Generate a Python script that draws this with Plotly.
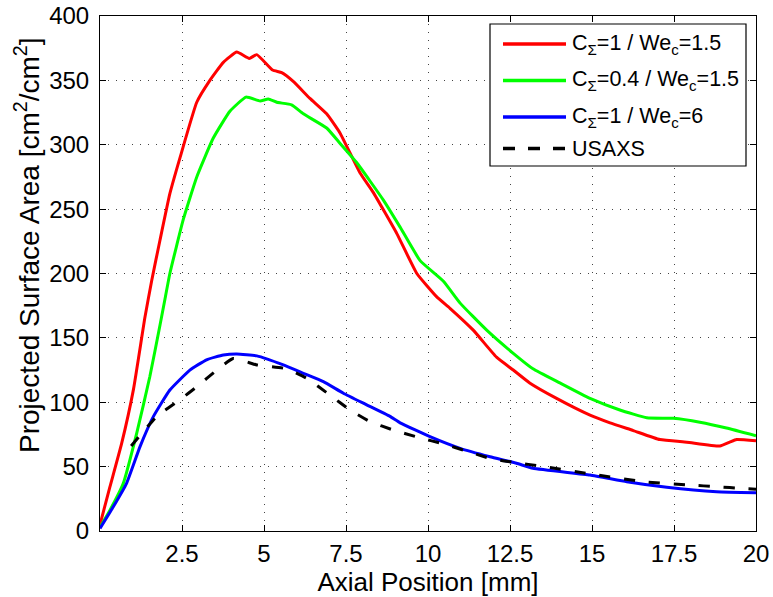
import plotly.graph_objects as go

# ---- data ----
red_x = [0, 0.3, 0.66, 1.02, 1.37, 1.58, 1.83, 2.13, 2.44, 2.95, 3.35, 3.76, 4.17, 4.55, 4.78,
         5.26, 5.54, 5.9, 6.4, 6.91, 7.32, 7.93, 8.33, 9.05, 9.66, 10.26, 10.67, 11.38, 12.09,
         12.6, 13.1, 13.92, 14.94, 15.55, 16.26, 17.07, 17.89, 18.9, 19.2, 19.41, 20]
red_y = [5, 34, 68, 110, 166, 195, 226, 262, 290, 333, 350, 364, 372, 367, 370,
         358, 356, 349, 336, 324, 309, 278, 263, 231, 200, 182, 173, 156, 135,
         125, 115, 103, 90, 84, 78, 71, 69, 66, 69, 71, 70]

green_x = [0, 0.3, 0.71, 1.12, 1.52, 1.83, 1.98, 2.13, 2.54, 2.95, 3.45, 3.96, 4.45, 4.88, 5.13,
           5.39, 5.84, 6.2, 6.91, 7.32, 7.83, 8.64, 9.15, 9.76, 10.47, 10.98, 11.79, 12.6, 13.2,
           14.02, 14.94, 15.85, 16.67, 17.48, 18.29, 19.1, 20]
green_y = [3, 16, 37, 76, 120, 160, 180, 200, 242, 275, 305, 326, 337, 334, 335.5,
           333, 331, 324, 313, 301, 286, 257, 236, 210, 194, 177, 156, 138, 126,
           115, 103, 94, 88, 87.5, 84.5, 80, 74]

blue_x = [0, 0.41, 0.81, 1.22, 1.63, 2.13, 2.74, 3.25, 3.76, 4.17, 4.78, 5.59, 6.2, 6.81, 7.42,
          8.13, 8.84, 9.15, 10.06, 10.98, 11.89, 12.7, 13.2, 14.94, 16.06, 17.28, 18.8, 20]
blue_y = [2, 19, 37, 65.5, 89, 109.5, 125, 133, 136.7, 137.5, 136, 129, 122.5, 116, 107,
          98, 89, 84, 73.3, 64.2, 57.7, 52.6, 48.7, 43.5, 38.3, 34, 30.5, 29.7]

usaxs_x = [0.95, 1.73, 2.44, 2.95, 3.56, 4.06, 4.78, 5.69, 6.3, 7.01, 7.62, 8.23, 8.94, 9.7,
           10.47, 11.18, 11.94, 12.7, 13.41, 14.94, 16.57, 18.0, 18.8, 19.6, 20]
usaxs_y = [66, 89, 102, 112, 125, 134, 129, 126, 118.6, 105.6, 94, 85, 78.4, 72.8,
           67.6, 62, 56, 53, 50.5, 44.3, 38.3, 35.7, 34.4, 33, 32.5]

names = ["C<sub>Σ</sub>=1 / We<sub>c</sub>=1.5",
         "C<sub>Σ</sub>=0.4 / We<sub>c</sub>=1.5",
         "C<sub>Σ</sub>=1 / We<sub>c</sub>=6",
         "USAXS"]

x_ticks = [2.5, 5, 7.5, 10, 12.5, 15, 17.5, 20]
x_tick_text = ["2.5", "5", "7.5", "10", "12.5", "15", "17.5", "20"]
y_ticks = [0, 50, 100, 150, 200, 250, 300, 350, 400]

x_title = "Axial Position [mm]"
y_title = "Projected Surface Area [cm<sup>2</sup>/cm<sup>2</sup>]"

# ---- styles ----
FONT = "Liberation Sans, Arial, Helvetica, sans-serif"
colors = ["#ff0000", "#00ff00", "#0000ff", "#000000"]
dashes = ["solid", "solid", "solid", "11px,14px"]

W, H = 773, 597
ML, MR, MT, MB = 100, 17, 16, 66
PW, PH = W - ML - MR, H - MT - MB


def px2paper(px, py):
    return (px - ML) / PW, (H - MB - py) / PH


fig = go.Figure()
series = [(red_x, red_y), (green_x, green_y), (blue_x, blue_y), (usaxs_x, usaxs_y)]
for (sx, sy), nm, c, d in zip(series, names, colors, dashes):
    fig.add_trace(go.Scatter(x=sx, y=sy, mode="lines", name=nm, showlegend=False,
                             line=dict(color=c, width=3, dash=d, shape="spline", smoothing=0.4)))

axis_common = dict(
    showline=True, linecolor="black", linewidth=1, mirror="allticks",
    ticks="inside", ticklen=6, tickcolor="black",
    showgrid=True, gridcolor="#444444", gridwidth=1, griddash="1px,7px",
    zeroline=False, automargin=False,
    tickfont=dict(family=FONT, size=24, color="black"),
)

fig.update_xaxes(range=[0, 20], tickvals=x_ticks, ticktext=x_tick_text,
                 ticklabelstandoff=1,
                 title=dict(text=x_title, font=dict(family=FONT, size=26, color="black"),
                            standoff=0),
                 **axis_common)
fig.update_yaxes(range=[0, 400], tickvals=y_ticks, ticklabelstandoff=5, **axis_common)

shapes = []
annotations = []

# y-axis title (placed as in the reference, slightly above the axis centre)
yx, yy = px2paper(27, 245)
annotations.append(dict(xref="paper", yref="paper", x=yx, y=yy, text=y_title, showarrow=False,
                        textangle=-90, xanchor="center", yanchor="middle",
                        font=dict(family=FONT, size=28, color="black")))

# ---- legend box drawn to match the reference layout ----
bx0, by0 = px2paper(490, 166)
bx1, by1 = px2paper(746, 24)
shapes.append(dict(type="rect", xref="paper", yref="paper", x0=bx0, y0=by0, x1=bx1, y1=by1,
                   fillcolor="white", line=dict(color="black", width=1.2), layer="above"))
row_y = [44, 80.5, 117, 148.5]
for ry, nm, c, d in zip(row_y, names, colors, dashes):
    lx0, ly = px2paper(503, ry)
    lx1, _ = px2paper(566, ry)
    shapes.append(dict(type="line", xref="paper", yref="paper", x0=lx0, x1=lx1, y0=ly, y1=ly,
                       line=dict(color=c, width=3.5, dash="12px,13px" if d != "solid" else "solid"),
                       layer="above"))
    tx, _ = px2paper(570, ry)
    annotations.append(dict(xref="paper", yref="paper", x=tx, y=ly, text=nm, showarrow=False,
                            xanchor="left", yanchor="middle",
                            font=dict(family=FONT, size=21.5, color="black")))

fig.update_layout(
    width=W, height=H,
    margin=dict(l=ML, r=MR, t=MT, b=MB, pad=0),
    paper_bgcolor="white", plot_bgcolor="white",
    font=dict(family=FONT, color="black"),
    showlegend=False,
    shapes=shapes, annotations=annotations,
)

fig.write_html("out.html")
